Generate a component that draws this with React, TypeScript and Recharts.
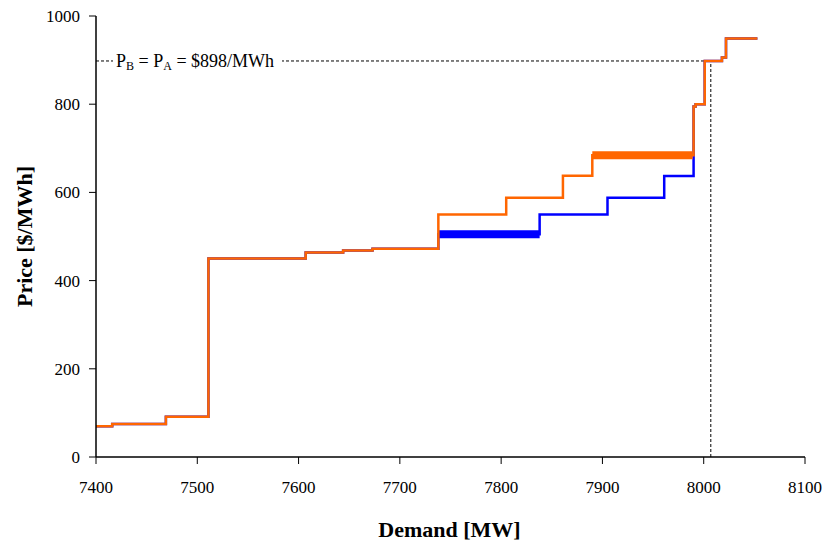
import { LineChart, Line, XAxis, YAxis, ReferenceLine } from 'recharts';

// demand [MW] where each step begins, and the price [$/MWh] it holds
const demandB = [7400, 7416, 7469, 7511, 7607, 7644, 7673, 7738, 7838, 7905, 7961, 7990, 7992, 8001, 8018, 8022, 8053];
const priceB = [70, 75, 91, 450, 464, 468, 472, 505, 550, 588, 637, 795, 800, 898, 906, 949, 949];

const demandA = [7400, 7416, 7469, 7511, 7607, 7644, 7673, 7738, 7805, 7861, 7890, 7990, 7992, 8001, 8018, 8022, 8053];
const priceA = [70, 75, 91, 450, 464, 468, 472, 550, 588, 638, 684, 795, 800, 898, 906, 949, 949];

// thick highlighted blocks
const blockBDemand = [7738, 7838];
const blockBPrice = [505, 505];
const blockADemand = [7890, 7989];
const blockAPrice = [684, 684];

const clearingPrice = 898;
const clearingDemand = 8007;

const xTicks = [7400, 7500, 7600, 7700, 7800, 7900, 8000, 8100];
const yTicks = [0, 200, 400, 600, 800, 1000];

const toPoints = (xs: number[], ys: number[]) => xs.map((x, i) => ({ x, y: ys[i] }));

const FONT = "'Liberation Serif', 'Times New Roman', serif";
const BLUE = '#0000ff';
const ORANGE = '#ff6600';

function XTick(props: any) {
	const { x, y, payload } = props;
	return (
		<text x={x} y={y} dy='0.71em' textAnchor='middle' style={{ fontFamily: FONT, fontSize: 17, fill: '#000' }}>
			{payload.value}
		</text>
	);
}

function YTick(props: any) {
	const { x, y, payload } = props;
	return (
		<text x={x} y={y} dy='0.355em' textAnchor='end' style={{ fontFamily: FONT, fontSize: 17, fill: '#000' }}>
			{payload.value}
		</text>
	);
}

function YTitle(props: any) {
	const vb = props.viewBox || { x: 0, y: 0, width: 0, height: 0 };
	const cx = vb.x + 24;
	const cy = vb.y + vb.height / 2;
	return (
		<text
			x={cx}
			y={cy}
			transform={`rotate(-90 ${cx} ${cy})`}
			textAnchor='middle'
			dominantBaseline='central'
			style={{ fontFamily: FONT, fontSize: 22, fontWeight: 'bold', fill: '#000' }}>
			Price [$/MWh]
		</text>
	);
}

function XTitle(props: any) {
	const vb = props.viewBox || { x: 0, y: 0, width: 0, height: 0 };
	return (
		<text
			x={vb.x + vb.width / 2 - 1}
			y={vb.y + 80}
			textAnchor='middle'
			style={{ fontFamily: FONT, fontSize: 22, fontWeight: 'bold', fill: '#000' }}>
			Demand [MW]
		</text>
	);
}

function PriceNote(props: any) {
	const vb = props.viewBox || { x: 0, y: 0 };
	const x = vb.x + 20;
	const y = vb.y;
	return (
		<g>
			<rect x={x - 3} y={y - 11} width={169} height={22} fill='#fff' />
			<text x={x} y={y + 6} style={{ fontFamily: FONT, fontSize: 18, fill: '#000' }}>
				P<tspan fontSize={12} dy={3}>B</tspan>
				<tspan dy={-3}> = P</tspan>
				<tspan fontSize={12} dy={3}>A</tspan>
				<tspan dy={-3}> = $898/MWh</tspan>
			</text>
		</g>
	);
}

export default function App() {
	return (
		<div>
			<style>{'body{margin:0;background:#fff}'}</style>
			<LineChart
				width={826}
				height={546}
				margin={{ top: 16, right: 21, left: 0, bottom: 0 }}>
				<XAxis
					dataKey='x'
					type='number'
					domain={[7400, 8100]}
					ticks={xTicks}
					allowDataOverflow
					height={89}
					tickSize={7}
					tickMargin={17}
					tick={<XTick />}
					axisLine={{ stroke: '#000', strokeWidth: 1.5 }}
					tickLine={{ stroke: '#000' }}
					label={<XTitle />}
				/>
				<YAxis
					dataKey='y'
					type='number'
					domain={[0, 1000]}
					ticks={yTicks}
					width={96}
					tickSize={7}
					tickMargin={9}
					tick={<YTick />}
					axisLine={{ stroke: '#000', strokeWidth: 1.5 }}
					tickLine={{ stroke: '#000' }}
					label={<YTitle />}
				/>
				<ReferenceLine
					segment={[
						{ x: 7400, y: clearingPrice },
						{ x: clearingDemand, y: clearingPrice },
					]}
					stroke='#000'
					strokeDasharray='3 2'
					strokeWidth={1}
					label={<PriceNote />}
				/>
				<ReferenceLine
					segment={[
						{ x: clearingDemand, y: 0 },
						{ x: clearingDemand, y: clearingPrice },
					]}
					stroke='#000'
					strokeDasharray='3 2'
					strokeWidth={1}
				/>
				<Line
					data={toPoints(demandB, priceB)}
					dataKey='y'
					type='stepAfter'
					stroke={BLUE}
					strokeWidth={2.5}
					dot={false}
					activeDot={false}
					isAnimationActive={false}
				/>
				<Line
					data={toPoints(blockBDemand, blockBPrice)}
					dataKey='y'
					type='linear'
					stroke={BLUE}
					strokeWidth={8}
					dot={false}
					activeDot={false}
					isAnimationActive={false}
				/>
				<Line
					data={toPoints(demandA, priceA)}
					dataKey='y'
					type='stepAfter'
					stroke={ORANGE}
					strokeWidth={2.5}
					dot={false}
					activeDot={false}
					isAnimationActive={false}
				/>
				<Line
					data={toPoints(blockADemand, blockAPrice)}
					dataKey='y'
					type='linear'
					stroke={ORANGE}
					strokeWidth={8}
					dot={false}
					activeDot={false}
					isAnimationActive={false}
				/>
			</LineChart>
		</div>
	);
}
